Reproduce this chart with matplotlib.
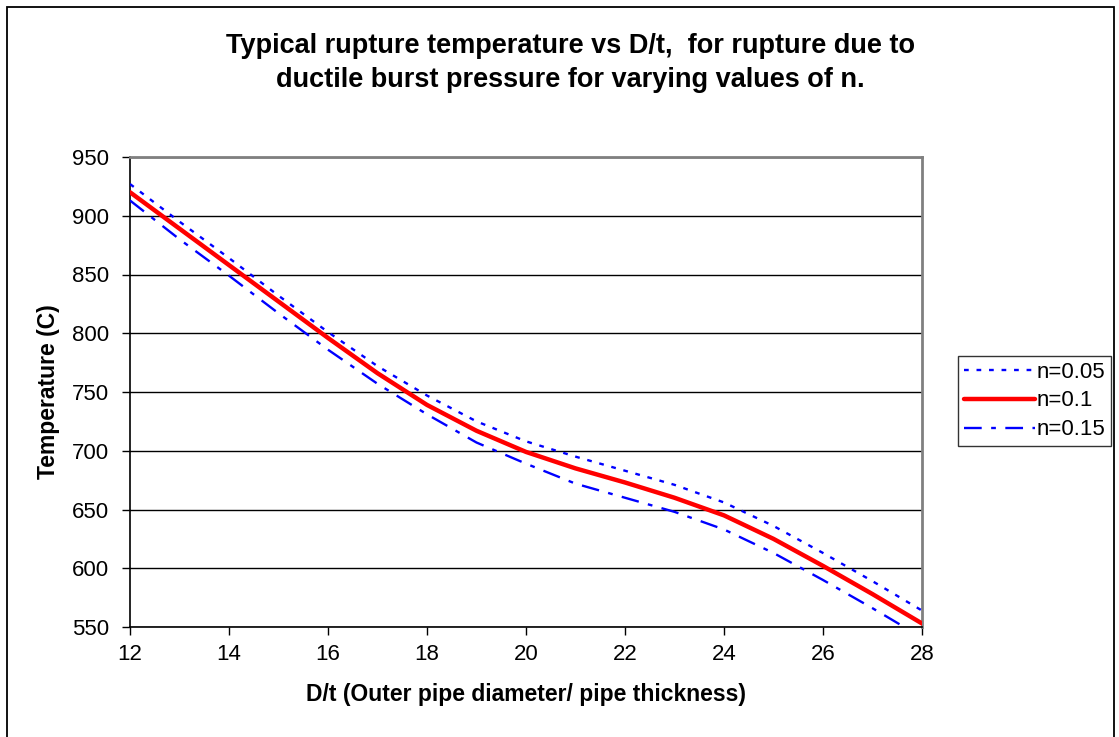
import matplotlib
matplotlib.use("Agg")
import matplotlib.pyplot as plt
from matplotlib.patches import Rectangle

plt.rcParams['font.family'] = ['Liberation Sans', 'DejaVu Sans']

# D/t values and rupture temperatures
dt = [12, 13, 14, 15, 16, 17, 18, 19, 20, 21, 22, 23, 24, 25, 26, 27, 28]
temp_n005 = [927, 895, 864, 832, 801, 772, 747, 725, 708, 695, 683, 671, 656, 636, 613, 589, 564]
temp_n010 = [920, 889, 858, 827, 796, 766, 739, 717, 699, 685, 673, 660, 645, 625, 602, 578, 553]
temp_n015 = [913, 880, 849, 817, 786, 757, 731, 707, 689, 672, 660, 648, 633, 613, 590, 566, 541]

x_ticks = [12, 14, 16, 18, 20, 22, 24, 26, 28]
y_ticks = [550, 600, 650, 700, 750, 800, 850, 900, 950]

W, H = 1119, 737
fig = plt.figure(figsize=(W / 100, H / 100), dpi=100)
ax = fig.add_axes([130 / W, 1 - 627 / H, (922 - 130) / W, (627 - 157) / H])

# outer chart frame
fig.add_artist(Rectangle((7 / W, -0.05), (1114 - 7) / W, 1.05 - 7 / H,
                         transform=fig.transFigure, fill=False, edgecolor='k', lw=1.3))

ax.plot(dt, temp_n005, color='#0000ff', lw=1.7, dashes=(2, 3.3), label='n=0.05', zorder=3)
ax.plot(dt, temp_n010, color='#ff0000', lw=3.2, label='n=0.1', zorder=4,
        solid_capstyle='round', solid_joinstyle='round')
ax.plot(dt, temp_n015, color='#0000ff', lw=1.7, dashes=(7.5, 4, 2, 4), label='n=0.15', zorder=3)

ax.set_xlim(12, 28)
ax.set_ylim(550, 950)
ax.set_xticks(x_ticks)
ax.set_yticks(y_ticks)
ax.yaxis.grid(True, color='k', lw=1.0)
ax.set_axisbelow(True)

for side in ['top', 'right']:
    ax.spines[side].set_color('#808080')
    ax.spines[side].set_linewidth(2)
ax.spines['left'].set_color('k')
ax.spines['bottom'].set_color('k')
ax.spines['left'].set_linewidth(1.2)
ax.spines['bottom'].set_linewidth(1.2)
ax.tick_params(direction='out', length=6, width=1, labelsize=16)
ax.tick_params(axis='y', pad=9)
ax.tick_params(axis='x', pad=6)

ax.set_xlabel('D/t (Outer pipe diameter/ pipe thickness)', fontsize=16.5, fontweight='bold', labelpad=13)
ax.set_ylabel('Temperature (C)', fontsize=16.5, fontweight='bold', labelpad=9)

fig.text(570 / W, 1 - 63 / H, 'Typical rupture temperature vs D/t,  for rupture due to\n'
         'ductile burst pressure for varying values of n.',
         ha='center', va='center', fontsize=19.5, fontweight='bold', linespacing=1.38)

leg = ax.legend(loc='center left', bbox_to_anchor=(958 / W, 1 - 401 / H),
                bbox_transform=fig.transFigure, frameon=True, fancybox=False,
                fontsize=16, handlelength=3.2, handletextpad=0.1,
                borderpad=0.25, labelspacing=0.35, borderaxespad=0)
leg.get_frame().set_edgecolor('k')
leg.get_frame().set_linewidth(1.0)

fig.savefig('out.png', dpi=100)
